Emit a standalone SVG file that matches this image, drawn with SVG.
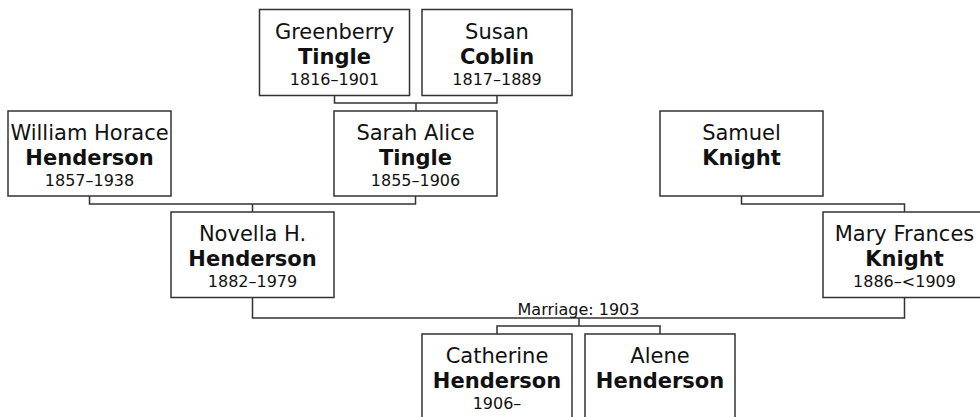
<svg xmlns="http://www.w3.org/2000/svg" width="980" height="417" viewBox="0 0 980 417">
<style>
  .box { fill: #ffffff; stroke: #333333; stroke-width: 1.5; }
  .conn { fill: none; stroke: #333333; stroke-width: 1.5; }
  text { font-family: "DejaVu Sans", Verdana, sans-serif; fill: #111111; text-anchor: middle; }
  .given { font-size: 21px; }
  .sur { font-size: 21px; font-weight: bold; }
  .dates { font-size: 16px; }
  .label { font-size: 16px; }
</style>
<rect width="980" height="417" fill="#ffffff"/>
<g id="connectors">
  <path class="conn" d="M334.5,95.5 V103 H497 V95.5 M416,103 V111"/>
  <path class="conn" d="M89.5,196 V204 H415.5 V196 M252.5,204 V212"/>
  <path class="conn" d="M741.5,196 V204 H904.5 V212"/>
  <path class="conn" d="M252.5,297.5 V318 H904.5 V297.5 M579,318 V326 M497,334 V326 H660 V334"/>
  <text class="label" x="578.5" y="315">Marriage: 1903</text>
</g>
<g id="greenberry-tingle">
  <rect class="box" x="259.5" y="9.5" width="150" height="86"/>
  <text class="given" x="334.5" y="38.5">Greenberry</text>
  <text class="sur" x="334.5" y="63.5">Tingle</text>
  <text class="dates" x="334.5" y="84.5">1816–1901</text>
</g>
<g id="susan-coblin">
  <rect class="box" x="422" y="9.5" width="150" height="86"/>
  <text class="given" x="497" y="38.5">Susan</text>
  <text class="sur" x="497" y="63.5">Coblin</text>
  <text class="dates" x="497" y="84.5">1817–1889</text>
</g>
<g id="william-henderson">
  <rect class="box" x="8" y="111" width="163" height="85"/>
  <text class="given" x="89.5" y="140">William Horace</text>
  <text class="sur" x="89.5" y="165">Henderson</text>
  <text class="dates" x="89.5" y="186">1857–1938</text>
</g>
<g id="sarah-tingle">
  <rect class="box" x="334" y="111" width="163" height="85"/>
  <text class="given" x="415.5" y="140">Sarah Alice</text>
  <text class="sur" x="415.5" y="165">Tingle</text>
  <text class="dates" x="415.5" y="186">1855–1906</text>
</g>
<g id="samuel-knight">
  <rect class="box" x="660" y="111" width="163" height="85"/>
  <text class="given" x="741.5" y="140">Samuel</text>
  <text class="sur" x="741.5" y="165">Knight</text>
</g>
<g id="novella-henderson">
  <rect class="box" x="171" y="212" width="163" height="85.5"/>
  <text class="given" x="252.5" y="241">Novella H.</text>
  <text class="sur" x="252.5" y="266">Henderson</text>
  <text class="dates" x="252.5" y="287">1882–1979</text>
</g>
<g id="mary-knight">
  <rect class="box" x="823" y="212" width="163" height="85.5"/>
  <text class="given" x="904.5" y="241">Mary Frances</text>
  <text class="sur" x="904.5" y="266">Knight</text>
  <text class="dates" x="904.5" y="287">1886–&lt;1909</text>
</g>
<g id="catherine-henderson">
  <rect class="box" x="422" y="334" width="150" height="86"/>
  <text class="given" x="497" y="363">Catherine</text>
  <text class="sur" x="497" y="388">Henderson</text>
  <text class="dates" x="497" y="409">1906–</text>
</g>
<g id="alene-henderson">
  <rect class="box" x="585" y="334" width="150" height="86"/>
  <text class="given" x="660" y="363">Alene</text>
  <text class="sur" x="660" y="388">Henderson</text>
</g>
</svg>
